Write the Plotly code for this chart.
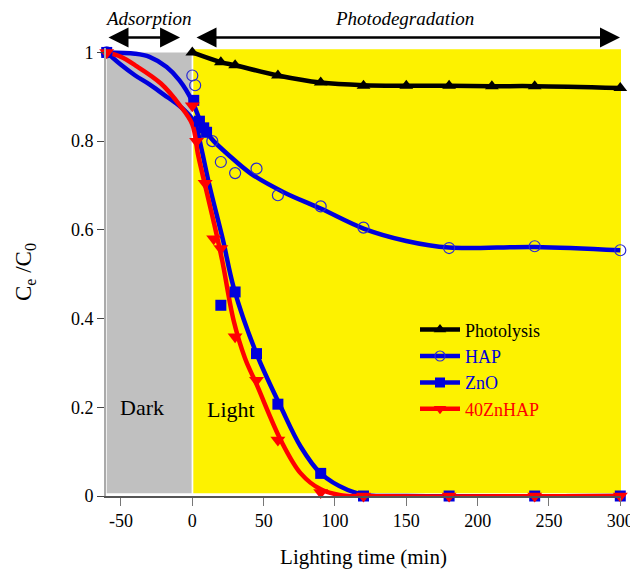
import plotly.graph_objects as go

# ---------------- data ----------------
photo_x = [0, 20, 30, 60, 90, 120, 150, 180, 210, 240, 300]
photo_y = [1.0, 0.978, 0.971, 0.948, 0.932, 0.925, 0.925, 0.925, 0.924, 0.924, 0.92]

hap_x = [-60, 0, 2, 14, 20, 30, 45, 60, 90, 120, 180, 240, 300]
hap_y = [1.0, 0.948, 0.926, 0.80, 0.753, 0.728, 0.738, 0.678, 0.653, 0.605, 0.559, 0.563, 0.554]

zno_x = [-60, 1, 5, 8, 10, 20, 30, 45, 60, 90, 120, 180, 240, 300]
zno_y = [1.0, 0.892, 0.845, 0.83, 0.82, 0.43, 0.46, 0.321, 0.207, 0.051, 0, 0, 0, 0]

zn40_x = [-60, 0, 3, 9, 15, 20, 30, 45, 60, 90, 120, 180, 240, 300]
zn40_y = [1.0, 0.88, 0.80, 0.705, 0.58, 0.558, 0.359, 0.261, 0.126, 0.008, 0, 0, 0, 0]

# smoothed curves
photo_cx = [0, 20, 30, 60, 90, 120, 150, 180, 210, 240, 300]
photo_cy = [1.0, 0.978, 0.971, 0.948, 0.932, 0.926, 0.925, 0.925, 0.924, 0.924, 0.92]

hap_cx = [-60, -40, -30, -18, -9, 0, 5, 10, 15, 25, 41, 64, 90, 120, 150, 180, 240, 300]
hap_cy = [1.0, 0.997, 0.99, 0.967, 0.937, 0.89, 0.85, 0.82, 0.80, 0.77, 0.727, 0.685, 0.648, 0.603, 0.575, 0.56, 0.5615, 0.554]

zno_cx = [-60, -50, -40, -30, -20, -10, -4, 0, 3, 6.6, 12, 21.5, 29, 45, 62, 76, 90, 109, 123, 150, 300]
zno_cy = [1.0, 0.972, 0.948, 0.928, 0.905, 0.882, 0.865, 0.85, 0.83, 0.78, 0.70, 0.577, 0.47, 0.321, 0.201, 0.111, 0.051, 0.0135, 0.002, 0, 0]

zn40_cx = [-60, -50, -40, -22, -9, 0, 4, 9, 15, 21, 29, 37, 45, 62, 76, 90, 104, 120, 300]
zn40_cy = [1.0, 0.99, 0.971, 0.93, 0.882, 0.838, 0.77, 0.70, 0.618, 0.53, 0.395, 0.31, 0.252, 0.126, 0.051, 0.015, 0.002, 0, 0]

x_ticks = [-50, 0, 50, 100, 150, 200, 250, 300]
x_tick_text = ["-50", "0", "50", "100", "150", "200", "250", "300"]
y_ticks = [0, 0.2, 0.4, 0.6, 0.8, 1]
y_tick_text = ["0", "0.2", "0.4", "0.6", "0.8", "1"]

names = ["Photolysis", "HAP", "ZnO", "40ZnHAP"]

# ---------------- styles ----------------
FONT = "Liberation Serif"
BLACK, BLUE, RED = "#000000", "#0000dd", "#ff0000"
YELLOW, GRAY = "#fdf200", "#c0c0c0"
LW = 4.5

fig = go.Figure()

# curves
curves = [
    (hap_cx, hap_cy, BLUE),
    (zno_cx, zno_cy, BLUE),
    (zn40_cx, zn40_cy, RED),
    (photo_cx, photo_cy, BLACK),
]
for cx, cy, col in curves:
    fig.add_trace(go.Scatter(x=cx, y=cy, mode="lines", showlegend=False,
                             line=dict(color=col, width=LW, shape="spline", smoothing=1.0),
                             hoverinfo="skip"))

# markers
fig.add_trace(go.Scatter(x=hap_x, y=hap_y, mode="markers", showlegend=False, cliponaxis=False,
                         marker=dict(symbol="circle-open", size=11, color="#2a2ad0",
                                     line=dict(width=1.2, color="#2a2ad0"))))
fig.add_trace(go.Scatter(x=zno_x, y=zno_y, mode="markers", showlegend=False, cliponaxis=False,
                         marker=dict(symbol="square", size=11, color=BLUE)))
fig.add_trace(go.Scatter(x=zn40_x, y=zn40_y, mode="markers", showlegend=False, cliponaxis=False,
                         marker=dict(symbol="triangle-down", size=13, color=RED)))
fig.add_trace(go.Scatter(x=photo_x, y=photo_y, mode="markers", showlegend=False, cliponaxis=False,
                         marker=dict(symbol="triangle-up", size=12, color=BLACK)))

# legend entries
leg = [
    (names[0], BLACK, dict(symbol="triangle-up", size=11, color=BLACK)),
    (names[1], BLUE, dict(symbol="circle-open", size=10, color="#2a2ad0", line=dict(width=1.2))),
    (names[2], BLUE, dict(symbol="square", size=10, color=BLUE)),
    (names[3], RED, dict(symbol="triangle-down", size=11, color=RED)),
]
for nm, col, mk in leg:
    fig.add_trace(go.Scatter(x=[None], y=[None], mode="lines+markers",
                             name=f"<span style='color:{col}'>{nm}</span>",
                             line=dict(color=col, width=LW), marker=mk))

# background regions
fig.add_shape(type="rect", xref="x", yref="y", x0=-60, x1=-0.5, y0=0.006, y1=1.0,
              fillcolor=GRAY, line=dict(width=0), layer="below")
fig.add_shape(type="rect", xref="x", yref="y", x0=0.7, x1=300.5, y0=0.006, y1=1.007,
              fillcolor=YELLOW, line=dict(width=0), layer="below")

# arrows (double headed), placed above the plot area
ARROW_Y = 1.0236
for x0, x1 in [(-59.8, -8.6), (1.9, 299.8)]:
    fig.add_annotation(x=x1, y=ARROW_Y, xref="x", yref="paper",
                       ax=x0, ay=0, axref="x", ayref="pixel",
                       text="", showarrow=True,
                       arrowhead=2, arrowside="end+start", arrowsize=1.6,
                       arrowwidth=2.5, arrowcolor=BLACK)

fig.add_annotation(x=-31, y=1.066, xref="x", yref="paper", text="<i>Adsorption</i>",
                   xanchor="center", yanchor="middle",
                   showarrow=False, font=dict(family=FONT, size=19, color=BLACK))
fig.add_annotation(x=149, y=1.066, xref="x", yref="paper", text="<i>Photodegradation</i>",
                   xanchor="center", yanchor="middle",
                   showarrow=False, font=dict(family=FONT, size=19, color=BLACK))
fig.add_annotation(x=-35, y=0.2, xref="x", yref="y", text="Dark",
                   showarrow=False, font=dict(family=FONT, size=22, color=BLACK))
fig.add_annotation(x=27, y=0.195, xref="x", yref="y", text="Light",
                   showarrow=False, font=dict(family=FONT, size=22, color=BLACK))

# the page body adds an 8px offset, so the figure is sized 8px smaller
fig.update_layout(
    width=630, height=565,
    margin=dict(l=98, r=17, t=39.6, b=77, autoexpand=False),
    paper_bgcolor="white", plot_bgcolor="white",
    font=dict(family=FONT, size=18, color=BLACK),
    showlegend=True,
    legend=dict(x=0.6, y=0.412, xanchor="left", yanchor="top",
                bgcolor="rgba(0,0,0,0)", font=dict(family=FONT, size=18),
                itemwidth=40, tracegroupgap=0),
    xaxis=dict(range=[-60.5, 300.5], tickvals=x_ticks, ticktext=x_tick_text,
               automargin=False,
               showgrid=False, zeroline=False, showline=True, linecolor="#555555",
               linewidth=1.5, ticks="outside", ticklen=8, tickcolor="#777777",
               tickwidth=1.2, tickfont=dict(family=FONT, size=18),
               title=dict(text="Lighting time (min)", font=dict(family=FONT, size=21),
                          standoff=19)),
    yaxis=dict(range=[0, 1.01], tickvals=y_ticks, ticktext=y_tick_text,
               automargin=False,
               showgrid=False, zeroline=False, showline=True, linecolor="#aaaaaa",
               linewidth=2, ticks="outside", ticklen=7, tickcolor="#444444",
               tickwidth=1.2, tickfont=dict(family=FONT, size=18),
               title=dict(text="C<sub>e</sub> /C<sub>0</sub>", font=dict(family=FONT, size=23),
                          standoff=33)),
)

fig.write_html("out.html")
